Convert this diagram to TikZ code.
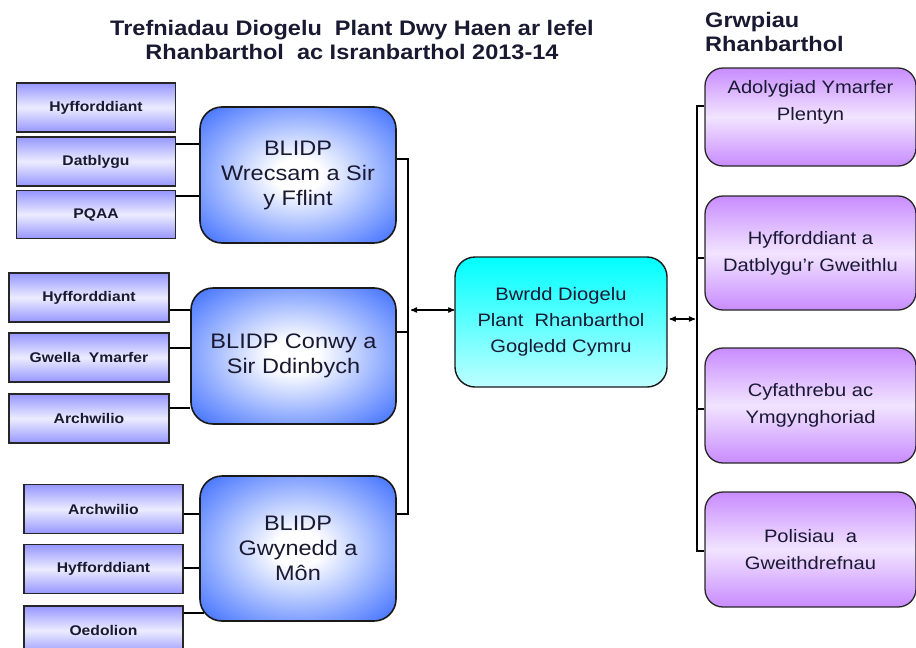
\documentclass[tikz,border=0pt]{standalone}
\usepackage{fontspec}
\setmainfont{Liberation Sans}[FakeStretch=1.12]
\usetikzlibrary{arrows}
\definecolor{subtop}{RGB}{150,150,255}
\definecolor{subpale}{RGB}{236,236,255}
\definecolor{lidpblue}{RGB}{55,105,255}
\definecolor{boardtop}{RGB}{0,255,255}
\definecolor{boardlow}{RGB}{190,255,255}
\definecolor{grptop}{RGB}{200,140,255}
\definecolor{grppale}{RGB}{242,228,255}
\definecolor{inktext}{RGB}{25,25,50}
\pgfdeclareradialshading{lidpglow}{\pgfpoint{0bp}{0bp}}{%
  color(0bp)=(white); color(6bp)=(white); color(36bp)=(lidpblue); color(50bp)=(lidpblue)}
\tikzset{
>=stealth',
  heading/.style = { inner sep=0pt, font=\bfseries\fontsize{21}{24}\selectfont, text=inktext },
  sub/.style     = { rectangle, draw=black!85, line width=1.3pt,
                     top color=subtop, bottom color=subtop, middle color=subpale,
                     minimum width=159pt, minimum height=49pt, inner sep=0pt,
                     font=\bfseries\fontsize{14}{16}\selectfont, text=inktext },
  lidp/.style    = { rectangle, rounded corners=22pt, draw=black!90, line width=1.6pt,
                     shading=lidpglow,
                     minimum width=196pt, align=center,
                     font=\fontsize{21}{25}\selectfont, text=inktext },
  board/.style   = { rectangle, rounded corners=20pt, draw=black!90, line width=1.4pt,
                     top color=boardtop, bottom color=boardlow,
                     minimum width=212pt, minimum height=130pt, align=center,
                     font=\fontsize{18}{26}\selectfont, text=inktext },
  group/.style   = { rectangle, rounded corners=18pt, draw=black!85, line width=1.3pt,
                     top color=grptop, bottom color=grptop, middle color=grppale,
                     minimum width=211pt, minimum height=115pt, align=center,
                     font=\fontsize{18}{27}\selectfont, text=inktext },
  link/.style    = { draw=black, line width=1.2pt }
}
\begin{document}
\begin{tikzpicture}[x=1pt,y=-1pt]
  \useasboundingbox (0,0) rectangle (916,648);

  % Headings
  \node[heading, align=center] (title) at (352,40)
    {Trefniadau Diogelu\ \ Plant Dwy Haen ar lefel\\Rhanbarthol\ \ ac Isranbarthol 2013-14};
  \node[heading, align=left, anchor=north west] (groups) at (705,12) {Grwpiau\\Rhanbarthol};

  % Local boards
  \node[lidp, minimum height=136pt] (wrex) at (298,175) {BLIDP\\Wrecsam a Sir\\y Fflint};
  \node[lidp, minimum width=205pt, minimum height=136pt] (conwy) at (293.5,356) {BLIDP Conwy a\\Sir Ddinbych};
  \node[lidp, minimum height=145pt] (gwyn) at (298,548.5) {BLIDP\\Gwynedd a\\Môn};

  % Sub groups
  \node[sub] (wrexA) at (96,107.5) {Hyfforddiant};
  \node[sub] (wrexB) at (96,161.5) {Datblygu};
  \node[sub, minimum height=48pt] (wrexC) at (96,214.5) {PQAA};

  \node[sub, minimum width=160pt] (conwyA) at (89,297.5) {Hyfforddiant};
  \node[sub, minimum width=160pt] (conwyB) at (89,357.5) {Gwella\ \ Ymarfer};
  \node[sub, minimum width=160pt] (conwyC) at (89,418.5) {Archwilio};

  \node[sub] (gwynA) at (103.5,509) {Archwilio};
  \node[sub] (gwynB) at (103.5,569) {Hyfforddiant};
  \node[sub] (gwynC) at (103.5,630.5) {Oedolion};

  \draw[link] (wrexB.east |- 0,144) -- (wrex.west |- 0,144);
  \draw[link] (wrexC.east |- 0,196) -- (wrex.west |- 0,196);
  \draw[link] (conwyA.east |- 0,310) -- (conwy.west |- 0,310);
  \draw[link] (conwyB.east |- 0,348) -- (conwy.west |- 0,348);
  \draw[link] (conwyC.east |- 0,408) -- (conwy.west |- 0,408);
  \draw[link] (gwynA.east |- 0,514) -- (gwyn.west |- 0,514);
  \draw[link] (gwynB.east |- 0,568) -- (gwyn.west |- 0,568);
  \draw[link] (gwynC.east |- 0,613) -- ([xshift=5pt]gwyn.west |- 0,613);

  % Regional board
  \node[board] (board) at (561,322) {Bwrdd Diogelu\\Plant\ \ Rhanbarthol\\Gogledd Cymru};

  % Regional groups
  \node[group, minimum height=98pt, text depth=34pt] (grpA) at (810.5,117) {Adolygiad Ymarfer\\Plentyn};
  \node[group, minimum height=114pt] (grpB) at (810.5,253) {Hyfforddiant a\\Datblygu'r Gweithlu};
  \node[group] (grpC) at (810.5,405.5) {Cyfathrebu ac\\Ymgynghoriad};
  \node[group] (grpD) at (810.5,549.5) {Polisiau\ \ a\\Gweithdrefnau};

  % Spines
  \coordinate (spineL) at (408,310);
  \coordinate (spineR) at (697,319);

  \draw[link] (wrex.east |- 0,159) -- (spineL |- 0,159) -- (spineL |- 0,514) -- (gwyn.east |- 0,514);
  \draw[link] (conwy.east |- 0,332) -- (spineL |- 0,332);
  \draw[link, <->, shorten <=3pt] (spineL) -- (board.west |- spineL);

  \draw[link, <->, shorten >=2pt] ([xshift=2pt]board.east |- spineR) -- (spineR);
  \draw[link] (grpA.west |- 0,106) -- (spineR |- 0,106) -- (spineR |- 0,551) -- (grpD.west |- 0,551);
  \draw[link] (grpB.west |- 0,258) -- (spineR |- 0,258);
  \draw[link] (grpC.west |- 0,409) -- (spineR |- 0,409);
\end{tikzpicture}
\end{document}
